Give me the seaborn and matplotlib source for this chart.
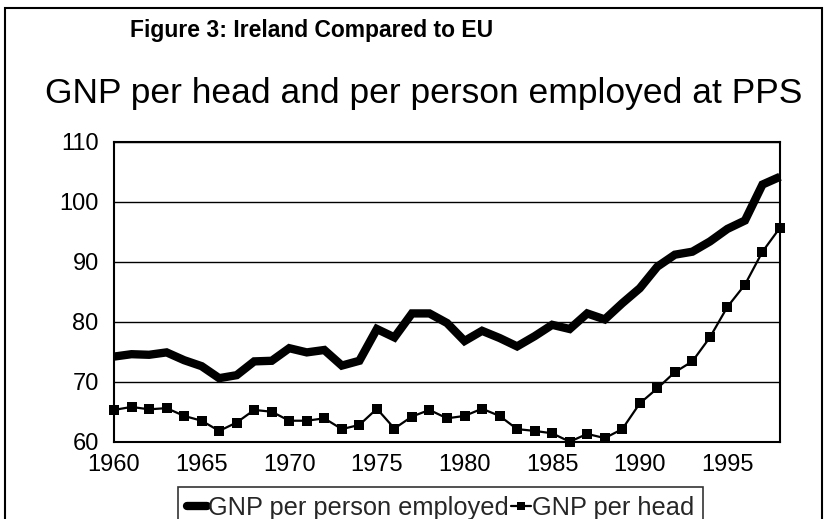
import numpy as np
import pandas as pd
import matplotlib
matplotlib.use("Agg")
import matplotlib.pyplot as plt
import seaborn as sns
from matplotlib.lines import Line2D
from matplotlib.patches import Rectangle

years = list(range(1960, 1999))
gnp_per_employed = [74.2, 74.6, 74.5, 74.9, 73.6, 72.6, 70.6, 71.1, 73.4, 73.5,
                    75.6, 74.9, 75.3, 72.7, 73.5, 78.8, 77.4, 81.4, 81.4, 79.8,
                    76.8, 78.5, 77.3, 75.9, 77.6, 79.5, 78.8, 81.4, 80.4, 83.1,
                    85.6, 89.2, 91.2, 91.7, 93.4, 95.5, 96.9, 102.9, 104.2]
gnp_per_head = [65.3, 65.8, 65.4, 65.6, 64.3, 63.5, 61.8, 63.2, 65.3, 65.0,
                63.5, 63.5, 63.9, 62.1, 62.8, 65.5, 62.2, 64.2, 65.3, 63.9,
                64.3, 65.5, 64.3, 62.1, 61.8, 61.4, 60.0, 61.3, 60.6, 62.1,
                66.4, 68.9, 71.6, 73.4, 77.4, 82.5, 86.2, 91.7, 95.7]
series_names = ["GNP per person employed", "GNP per head"]
x_ticks = [1960, 1965, 1970, 1975, 1980, 1985, 1990, 1995]
y_ticks = [60, 70, 80, 90, 100, 110]
title = "Figure 3: Ireland Compared to EU"
subtitle = "GNP per head and per person employed at PPS"

sns.set_theme(style="white")
plt.rcParams['font.family'] = ['Liberation Sans', 'DejaVu Sans']

df1 = pd.DataFrame({"year": years, "value": gnp_per_employed})
df2 = pd.DataFrame({"year": years, "value": gnp_per_head})

fig = plt.figure(figsize=(8.26, 5.19), dpi=100)
ax = fig.add_axes([114/826, 1-441.7/519, (780-114)/826, (441.7-142)/519])

sns.lineplot(data=df1, x="year", y="value", ax=ax, color="black", linewidth=6.0,
             solid_joinstyle="miter", solid_capstyle="butt", clip_on=False)
sns.lineplot(data=df2, x="year", y="value", ax=ax, color="black", linewidth=1.6,
             marker="s", markersize=6.5, markeredgewidth=0, clip_on=False)

ax.set_xlim(1960, 1998)
ax.set_ylim(60, 110)
ax.set_xticks(x_ticks)
ax.set_yticks(y_ticks)
ax.set_xticklabels([str(t) for t in x_ticks], fontsize=17)
ax.set_yticklabels([str(t) for t in y_ticks], fontsize=17)
ax.tick_params(axis="y", length=0, pad=11, colors="black")
ax.tick_params(axis="x", length=0, pad=9, colors="black")
ax.set_xlabel("")
ax.set_ylabel("")
ax.grid(axis="y", color="black", linewidth=1.0)
ax.set_axisbelow(True)
for s in ax.spines.values():
    s.set_visible(True)
    s.set_color("black")
    s.set_linewidth(1.5)

fig.text(130/826, 1-31/519, title, fontsize=16.5, fontweight="bold",
         ha="left", va="center", color="black")
fig.text(424/826, 1-93/519, subtitle, fontsize=25.5, ha="center", va="center",
         color="black")

# outer chart frame
fig.patches.append(Rectangle((5/826, -0.05), (822-5)/826, 1.05 - 8/519,
                             transform=fig.transFigure, fill=False,
                             edgecolor="black", linewidth=1.5))

handles = [Line2D([], [], color="black", linewidth=6),
           Line2D([], [], color="black", linewidth=1.6, marker="s",
                  markersize=6, markeredgewidth=0)]
leg = fig.legend(handles, series_names, loc="upper left",
                 bbox_to_anchor=(178/826, 1-487/519), ncol=2, fontsize=18.3,
                 frameon=True, fancybox=False, handlelength=0.8,
                 handletextpad=0.05, columnspacing=0.05, borderpad=0.35,
                 borderaxespad=0)
leg.get_frame().set_edgecolor("black")
leg.get_frame().set_linewidth(1.2)

fig.savefig("out.png", dpi=100)
